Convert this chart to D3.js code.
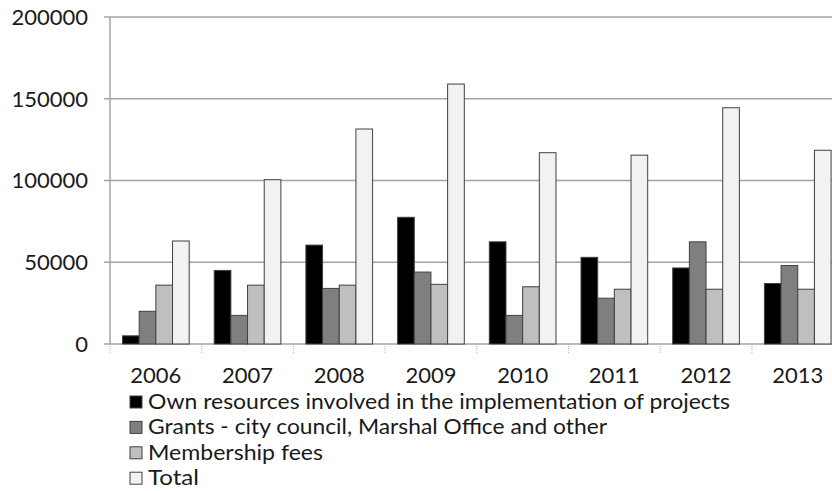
<!DOCTYPE html>
<html>
<head>
<meta charset="utf-8">
<script src="https://cdn.jsdelivr.net/npm/d3@7"></script>
<style>
  body { margin: 0; background: #fff; }
  text { font-family: Lato, "Open Sans", sans-serif; fill: #1a1a1a; }
</style>
</head>
<body>
<svg width="832" height="491"></svg>
<script>
// data
const years = ['2006', '2007', '2008', '2009', '2010', '2011', '2012', '2013']
const ownResources = [5000, 45000, 60500, 77500, 62500, 53000, 46500, 37000]
const grants = [20000, 17500, 34000, 44000, 17500, 28000, 62500, 48000]
const membershipFees = [36000, 36000, 36000, 36500, 35000, 33500, 33500, 33500]
const total = [63000, 100500, 131500, 159000, 117000, 115500, 144500, 118500]
const seriesNames = [
  'Own resources involved in the implementation of projects',
  'Grants - city council, Marshal Office and other',
  'Membership fees',
  'Total'
]
const yTicks = [0, 50000, 100000, 150000, 200000]

const seriesValues = [ownResources, grants, membershipFees, total]
const fills = ['#000000', '#7f7f7f', '#bfbfbf', '#f2f2f2']
const legendWidths = [582, 459, 175, 51]

let svg = d3.select('svg')
let plotLeft = 110, plotTop = 17, plotBottom = 344
let step = 91.7

let x0 = d3.scaleBand()
    .domain(years)
    .range([plotLeft, plotLeft + step * years.length])
let x1 = d3.scaleBand()
    .domain(d3.range(seriesNames.length))
    .range([0, x0.bandwidth()])
    .paddingOuter(0.75)
let y = d3.scaleLinear()
    .domain([0, 200000])
    .range([plotBottom, plotTop])

// gridlines
svg.append('g')
    .selectAll('line')
    .data(yTicks)
    .enter().append('line')
    .attr('x1', plotLeft - 6)
    .attr('x2', 832)
    .attr('y1', d => y(d))
    .attr('y2', d => y(d))
    .attr('stroke', '#a3a3a3')
    .attr('stroke-width', 1.5)

// y axis line
svg.append('line')
    .attr('x1', plotLeft).attr('x2', plotLeft)
    .attr('y1', plotTop).attr('y2', plotBottom)
    .attr('stroke', '#a3a3a3')
    .attr('stroke-width', 1.5)

// y labels
svg.append('g')
    .selectAll('text')
    .data(yTicks)
    .enter().append('text')
    .attr('x', 88)
    .attr('y', d => y(d))
    .attr('dy', '0.36em')
    .attr('text-anchor', 'end')
    .attr('font-size', 22)
    .text(d => d)

// x ticks at category boundaries
svg.append('g')
    .selectAll('line')
    .data(years)
    .enter().append('line')
    .attr('x1', d => x0(d))
    .attr('x2', d => x0(d))
    .attr('y1', plotBottom)
    .attr('y2', plotBottom + 9)
    .attr('stroke', '#b0b0b0')
    .attr('stroke-width', 1)
    .attr('stroke-dasharray', '1,1')

// bars
let groups = svg.append('g')
    .selectAll('g')
    .data(years)
    .enter().append('g')
    .attr('transform', d => `translate(${x0(d)},0)`)

groups.selectAll('rect')
    .data((d, i) => seriesValues.map((vals, s) => ({s, v: vals[i]})))
    .enter().append('rect')
    .attr('x', d => x1(d.s))
    .attr('width', x1.bandwidth())
    .attr('y', d => y(d.v))
    .attr('height', d => plotBottom - y(d.v))
    .attr('fill', d => fills[d.s])
    .attr('stroke', '#404040')
    .attr('stroke-width', 1)

// x labels
svg.append('g')
    .selectAll('text')
    .data(years)
    .enter().append('text')
    .attr('x', d => x0(d) + x0.bandwidth() / 2)
    .attr('y', 383)
    .attr('text-anchor', 'middle')
    .attr('font-size', 22)
    .text(d => d)

// legend
let legend = svg.append('g')
    .selectAll('g')
    .data(seriesNames)
    .enter().append('g')
    .attr('transform', (d, i) => `translate(130,${396 + i * 25.4})`)

legend.append('rect')
    .attr('width', 12)
    .attr('height', 12)
    .attr('fill', (d, i) => fills[i])
    .attr('stroke', '#404040')
    .attr('stroke-width', 1)

legend.append('text')
    .attr('x', 18)
    .attr('y', 13)
    .attr('font-size', 22)
    .attr('textLength', (d, i) => legendWidths[i])
    .attr('lengthAdjust', 'spacingAndGlyphs')
    .text(d => d)
</script>
</body>
</html>
